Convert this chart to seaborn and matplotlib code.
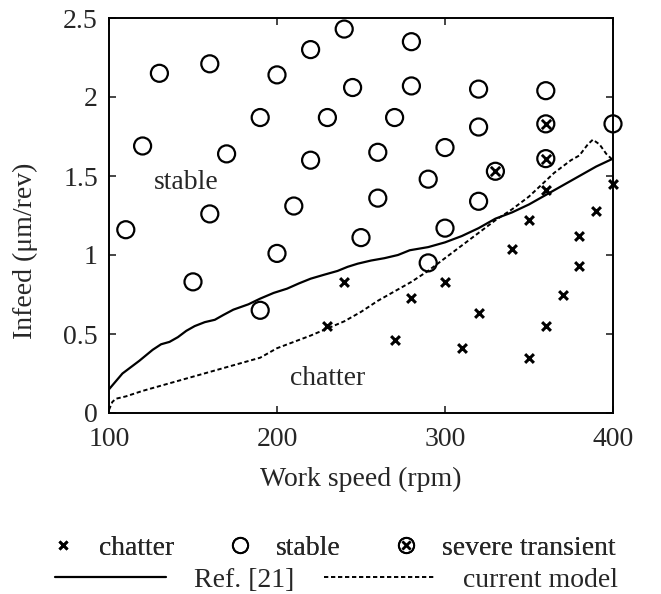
import matplotlib
matplotlib.use("Agg")
import matplotlib.pyplot as plt
from matplotlib.lines import Line2D
from matplotlib.legend_handler import HandlerTuple
import seaborn as sns

# Grinding trials: work speed (rpm) vs infeed (um/rev)
stable_x = [110, 120, 130, 150, 160, 160, 170, 190, 190, 200, 200, 210, 220, 220, 230, 240,
            245, 250, 260, 260, 270, 280, 280, 290, 290, 300, 300, 320, 320, 320, 360, 400]
stable_y = [1.16, 1.69, 2.15, 0.83, 2.21, 1.26, 1.64, 1.87, 0.65, 2.14, 1.01, 1.31, 2.30, 1.60, 1.87, 2.43,
            2.06, 1.11, 1.65, 1.36, 1.87, 2.35, 2.07, 1.48, 0.95, 1.68, 1.17, 2.05, 1.81, 1.34, 2.04, 1.83]

severe_x = [330, 360, 360]
severe_y = [1.53, 1.83, 1.61]

chatter_x = [230, 240, 270, 280, 300, 310, 320, 340, 350, 350, 360, 360, 370, 380, 380, 390, 400]
chatter_y = [0.55, 0.83, 0.46, 0.73, 0.83, 0.41, 0.63, 1.04, 1.22, 0.35, 0.55, 1.41, 0.75, 0.93, 1.12, 1.28, 1.45]

# Stability boundaries
ref_x = [100, 108, 118, 126, 131, 136, 141, 146, 151, 157, 163, 168, 174, 183, 190, 198, 206, 213, 220,
         228, 236, 242, 248, 256, 264, 272, 279, 290, 300, 310, 320, 330, 340, 350, 360, 370, 380, 390, 400]
ref_y = [0.15, 0.25, 0.33, 0.40, 0.435, 0.45, 0.48, 0.52, 0.55, 0.575, 0.59, 0.62, 0.654, 0.688, 0.724, 0.76,
         0.787, 0.82, 0.85, 0.875, 0.899, 0.925, 0.945, 0.965, 0.98, 1.0, 1.03, 1.05, 1.08, 1.12, 1.17, 1.23,
         1.27, 1.32, 1.38, 1.44, 1.50, 1.56, 1.61]

model_x = [100, 102, 104, 110, 120, 130, 140, 150, 160, 170, 180, 190, 200, 210, 220, 230, 240, 250, 260,
           270, 280, 290, 300, 310, 320, 330, 340, 350, 355, 360, 365, 370, 375, 380, 385, 388, 392, 396, 400]
model_y = [0.02, 0.07, 0.09, 0.105, 0.14, 0.17, 0.20, 0.23, 0.26, 0.29, 0.32, 0.35, 0.41, 0.45, 0.49, 0.535,
           0.58, 0.64, 0.71, 0.77, 0.83, 0.90, 0.98, 1.06, 1.14, 1.22, 1.29, 1.37, 1.42, 1.47, 1.52, 1.56,
           1.60, 1.63, 1.70, 1.73, 1.70, 1.64, 1.60]

x_ticks = [100, 200, 300, 400]
y_ticks = [0, 0.5, 1, 1.5, 2, 2.5]
y_tick_labels = ["0", "0.5", "1", "1.5", "2", "2.5"]

sns.set_style("ticks")
plt.rcParams["font.family"] = ["Liberation Serif", "DejaVu Serif"]
plt.rcParams["font.size"] = 20

fig = plt.figure(figsize=(6.61, 5.94), dpi=100)
ax = fig.add_axes([109 / 661, 1 - 413 / 594, (613 - 109) / 661, (413 - 18) / 594])

dotted = (0, (2.2, 1.4))
sns.lineplot(x=ref_x, y=ref_y, ax=ax, color="black", lw=1.6, estimator=None, sort=False)
sns.lineplot(x=model_x, y=model_y, ax=ax, color="black", lw=1.4, ls=dotted, estimator=None, sort=False)

circle_kw = dict(marker="o", s=150, facecolor="none", edgecolor="black", linewidth=1.6, clip_on=False, zorder=3)
sns.scatterplot(x=stable_x, y=stable_y, ax=ax, **circle_kw)
sns.scatterplot(x=severe_x, y=severe_y, ax=ax, **circle_kw)
sns.scatterplot(x=severe_x, y=severe_y, ax=ax, marker="x", s=45, color="black", linewidth=2.0, zorder=4)
sns.scatterplot(x=chatter_x, y=chatter_y, ax=ax, marker="x", s=40, color="black", linewidth=2.2,
                clip_on=False, zorder=4)

ax.text(146, 1.46, "stable", ha="center", va="center", fontsize=20)
ax.text(230, 0.22, "chatter", ha="center", va="center", fontsize=20)

ax.set_xlim(100, 400)
ax.set_ylim(0, 2.5)
ax.set_xticks(x_ticks)
ax.set_xticklabels([str(v) for v in x_ticks])
ax.set_yticks(y_ticks)
ax.set_yticklabels(y_tick_labels)
ax.tick_params(direction="in", length=5, width=1.2, top=True, right=True, labelsize=20)
ax.tick_params(axis="x", pad=10)
ax.tick_params(axis="y", pad=8)
for sp in ax.spines.values():
    sp.set_linewidth(1.4)
    sp.set_color("black")
ax.set_xlabel("Work speed (rpm)", fontsize=20, labelpad=11)
ax.set_ylabel("Infeed (\u03bcm/rev)", fontsize=20)
ax.yaxis.set_label_coords(-0.141, 0.41)

h_chatter = Line2D([], [], ls="none", marker="x", color="black", ms=6, mew=2.0)
h_stable = Line2D([], [], ls="none", marker="o", mfc="none", mec="black", ms=11, mew=1.4)
h_severe_o = Line2D([], [], ls="none", marker="o", mfc="none", mec="black", ms=11, mew=1.4)
h_severe_x = Line2D([], [], ls="none", marker="x", color="black", ms=6, mew=1.8)
leg1 = fig.legend([h_chatter, h_stable, (h_severe_o, h_severe_x)],
                  ["chatter", "stable", "severe transient"],
                  handler_map={tuple: HandlerTuple(ndivide=1, pad=0)},
                  loc="center", bbox_to_anchor=(0.503, 1 - 548 / 594), ncol=3, frameon=False,
                  handlelength=1.0, handletextpad=0.8, columnspacing=1.85, fontsize=20)

h_ref = Line2D([], [], color="black", lw=1.6)
h_model = Line2D([], [], color="black", lw=1.4, ls=dotted)
leg2 = fig.legend([h_ref, h_model], ["Ref. [21]", "current model"],
                  loc="center", bbox_to_anchor=(0.509, 1 - 580 / 594), ncol=2, frameon=False,
                  handlelength=4.0, handletextpad=1.0, columnspacing=1.1, fontsize=20)
fig.add_artist(leg1)

fig.savefig("out.png", dpi=100)
